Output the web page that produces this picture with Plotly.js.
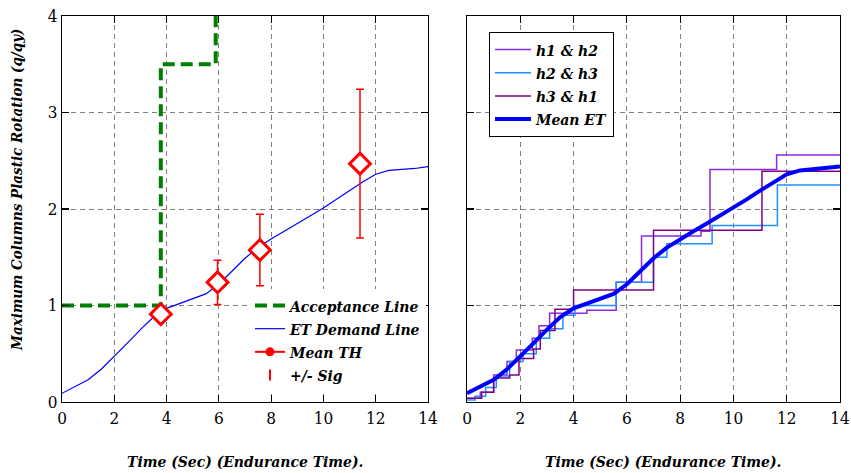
<!DOCTYPE html>
<html>
<head>
<meta charset="utf-8">
<script src="https://cdn.plot.ly/plotly-3.0.1.min.js"></script>
<style>
html,body{margin:0;padding:0;background:#fff;}
#chart{width:851px;height:473px;}
</style>
</head>
<body>
<div id="chart"></div>
<script>
// ---------- data ----------
const xTicks = [0, 2, 4, 6, 8, 10, 12, 14];
const yTicks = [0, 1, 2, 3, 4];

// Left panel
const acceptX = [0, 3.78, 3.78, 5.88, 5.88];
const acceptY = [1, 1, 3.5, 3.5, 4];

const etX = [0, 0.5, 1, 1.5, 2, 2.5, 3, 3.5, 4, 4.5, 5, 5.5, 6, 6.5, 7, 7.5, 8, 8.5, 9, 9.5, 10, 10.5, 11, 11.5, 12, 12.5, 13, 13.5, 14];
const etY = [0.09, 0.16, 0.23, 0.34, 0.47, 0.61, 0.75, 0.88, 0.97, 1.02, 1.07, 1.12, 1.22, 1.36, 1.49, 1.6, 1.69, 1.77, 1.85, 1.93, 2.01, 2.1, 2.19, 2.28, 2.36, 2.4, 2.41, 2.42, 2.44];

const thX = [3.78, 5.95, 7.57, 11.4];
const thY = [0.91, 1.24, 1.575, 2.47];
const thSig = [0, 0.23, 0.37, 0.77];

// Right panel (step records)
const h12X = [0, 0.5, 1.0, 1.5, 1.85, 2.45, 2.7, 3.1, 4.5, 5.6, 6.55, 8.78, 9.12, 11.62, 14];
const h12Y = [0.04, 0.1, 0.28, 0.42, 0.54, 0.66, 0.79, 0.92, 0.95, 1.24, 1.72, 1.77, 2.41, 2.56, 2.56];

const h23X = [0, 0.3, 0.7, 1.1, 1.6, 2.1, 2.6, 3.1, 3.6, 4.05, 5.6, 7.0, 7.5, 9.2, 11.65, 14];
const h23Y = [0.02, 0.06, 0.15, 0.27, 0.42, 0.5, 0.66, 0.76, 0.9, 1.0, 1.24, 1.5, 1.64, 1.83, 2.25, 2.25];

const h31X = [0, 0.55, 1.0, 1.6, 1.95, 2.5, 2.75, 3.3, 4.0, 7.0, 11.07, 14];
const h31Y = [0.04, 0.1, 0.25, 0.28, 0.45, 0.55, 0.74, 0.96, 1.16, 1.78, 2.39, 2.39];

// ---------- traces ----------
const serif = 'DejaVu Serif Condensed, DejaVu Serif';
const traces = [
  {x: acceptX, y: acceptY, mode: 'lines', name: 'Acceptance Line', xaxis: 'x', yaxis: 'y', legend: 'legend',
   line: {color: '#008000', width: 4, dash: '12px,6px'}},
  {x: etX, y: etY, mode: 'lines', name: 'ET Demand Line', xaxis: 'x', yaxis: 'y', legend: 'legend',
   line: {color: '#0000FF', width: 1.2}},
  {x: thX, y: thY, mode: 'markers', name: 'Mean TH pts', showlegend: false, xaxis: 'x', yaxis: 'y',
   marker: {symbol: 'diamond', size: 16, color: '#FFFFFF', line: {color: '#FF0000', width: 3}},
   error_y: {type: 'data', array: thSig, visible: true, color: '#FF0000', thickness: 1.5, width: 4}},
  {x: [null], y: [null], mode: 'lines+markers', name: 'Mean TH', xaxis: 'x', yaxis: 'y', legend: 'legend',
   line: {color: '#FF0000', width: 2}, marker: {symbol: 'circle', size: 9, color: '#FF0000'}},
  {x: [null], y: [null], mode: 'markers', name: '+/- Sig', xaxis: 'x', yaxis: 'y', legend: 'legend',
   marker: {symbol: 'line-ns-open', size: 8, color: '#FF0000', line: {color: '#FF0000', width: 2}}},

  {x: h12X, y: h12Y, mode: 'lines', name: 'h1 & h2', xaxis: 'x2', yaxis: 'y2', legend: 'legend2',
   line: {color: '#8A2BE2', width: 1.5, shape: 'hv'}},
  {x: h23X, y: h23Y, mode: 'lines', name: 'h2 & h3', xaxis: 'x2', yaxis: 'y2', legend: 'legend2',
   line: {color: '#1E90FF', width: 1.5, shape: 'hv'}},
  {x: h31X, y: h31Y, mode: 'lines', name: 'h3 & h1', xaxis: 'x2', yaxis: 'y2', legend: 'legend2',
   line: {color: '#800080', width: 1.5, shape: 'hv'}},
  {x: etX, y: etY, mode: 'lines', name: 'Mean ET', xaxis: 'x2', yaxis: 'y2', legend: 'legend2',
   line: {color: '#0000FF', width: 4}}
];

// ---------- layout ----------
const axisCommon = {
  range: [0, 14], showline: true, linecolor: '#000', linewidth: 1.2, mirror: 'ticks',
  ticks: 'inside', ticklen: 7, tickcolor: '#000', tickwidth: 1.2,
  showgrid: true, gridcolor: '#808080', gridwidth: 1, griddash: '5px,4px', zeroline: false,
  tickfont: {family: serif, size: 17, color: '#000'}
};
const yCommon = Object.assign({}, axisCommon, {range: [0, 4], tickvals: yTicks});
const xCommon = Object.assign({}, axisCommon, {tickvals: xTicks});

const titleFont = {family: serif, size: 15.5, color: '#000', weight: 'bold', style: 'italic'};
const yTitleFont = {family: serif, size: 15, color: '#000', weight: 'bold', style: 'italic'};
const legendFont = {family: serif, size: 15.5, color: '#000', weight: 'bold', style: 'italic'};

const layout = {
  width: 851, height: 473,
  margin: {l: 62, r: 11, t: 16, b: 71},
  paper_bgcolor: '#fff', plot_bgcolor: '#fff',
  font: {family: serif},
  showlegend: true,
  xaxis: Object.assign({}, xCommon, {domain: [0, 0.4704], anchor: 'y'}),
  yaxis: Object.assign({}, yCommon, {domain: [0, 1], anchor: 'x'}),
  xaxis2: Object.assign({}, xCommon, {domain: [0.5206, 1], anchor: 'y2'}),
  yaxis2: Object.assign({}, yCommon, {domain: [0, 1], anchor: 'x2', showticklabels: false}),
  legend: {x: 0.2416, xanchor: 'left', y: 0.026, yanchor: 'bottom', xref: 'paper', yref: 'paper',
           bgcolor: '#fff', borderwidth: 0, font: legendFont, traceorder: 'normal'},
  legend2: {x: 0.5488, xanchor: 'left', y: 0.9585, yanchor: 'top', xref: 'paper', yref: 'paper',
            bgcolor: '#fff', bordercolor: '#000', borderwidth: 1, font: legendFont, traceorder: 'normal',
            itemwidth: 36},
  annotations: [
    {text: 'Time (Sec) (Endurance Time).', xref: 'paper', yref: 'paper', x: 0.2352, y: -0.155,
     xanchor: 'center', yanchor: 'middle', showarrow: false, font: titleFont},
    {text: 'Time (Sec) (Endurance Time).', xref: 'paper', yref: 'paper', x: 0.7725, y: -0.155,
     xanchor: 'center', yanchor: 'middle', showarrow: false, font: titleFont},
    {text: 'Maximum Columns Plastic Rotation (q/qy)', xref: 'paper', yref: 'paper', x: -0.058, y: 0.549,
     xanchor: 'center', yanchor: 'middle', textangle: -90, showarrow: false, font: yTitleFont}
  ]
};

Plotly.newPlot('chart', traces, layout, {displayModeBar: false, staticPlot: true});
</script>
</body>
</html>
